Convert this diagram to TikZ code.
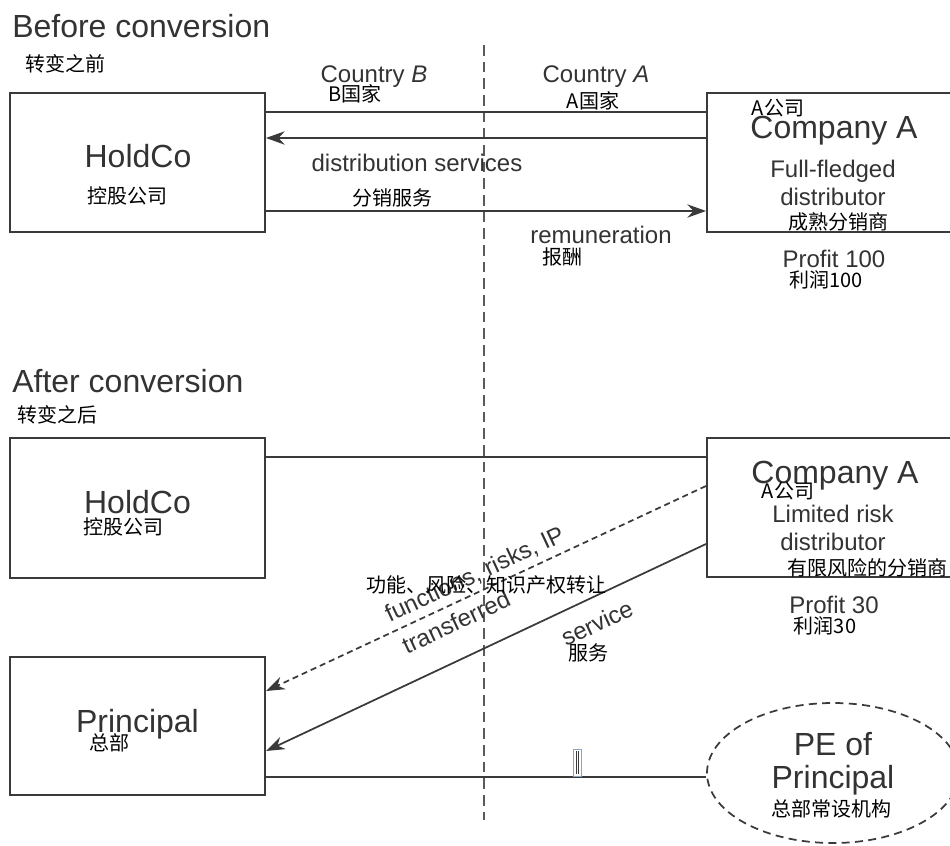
\documentclass[tikz,border=0pt]{standalone}
\usepackage{fontspec}
\setmainfont{Liberation Sans}
\newfontfamily\cjk{Noto Sans CJK SC}
\usetikzlibrary{arrows.meta,shapes.geometric,calc}
\definecolor{txt}{HTML}{333333}
\definecolor{ln}{HTML}{3A3A3A}
\definecolor{vl}{HTML}{5A5A5A}
\definecolor{cur}{HTML}{8AA4C8}
\begin{document}
\begin{tikzpicture}[x=0.75pt,y=-0.75pt,
  box/.style={draw=ln,line width=1.5pt,minimum width=191.25pt,minimum height=104.25pt,inner sep=0pt},
  big/.style={font=\fontsize{24pt}{28pt}\selectfont,text=txt,inner sep=0pt},
  med/.style={font=\fontsize{18pt}{21pt}\selectfont,text=txt,inner sep=0pt},
  zh/.style={font=\cjk\fontsize{15pt}{18pt}\selectfont,text=black,inner sep=0pt},
  conn/.style={draw=ln,line width=1.3pt},
  arr/.style={conn,-{Stealth[length=14pt,width=10pt]}},
  darr/.style={arr,dash pattern=on 4.5pt off 3pt},
  divider/.style={draw=vl,line width=2pt,dash pattern=on 8pt off 4.5pt},
]
\useasboundingbox (0,0) rectangle (950,846);
\clip (0,0) rectangle (950,846);
\fill[white] (0,0) rectangle (950,846);

% divider
\coordinate (vt) at (484,45);
\coordinate (vb) at (484,820);
\draw[divider] (vt) -- (vb);

% ---------- Before conversion ----------
\node[big,anchor=base west] (t1) at (12,37) {Before conversion};
\node[zh,anchor=west] (t1z) at (25,64) {转变之前};

\node[box] (hold1) at (137.5,162.5) {};
\node[box,minimum width=201pt] (compA1) at (841,162.5) {};

\draw[conn] ([yshift=-15pt]hold1.north east) -- ([yshift=-15pt]compA1.north west);
\draw[arr] ([yshift=-34.5pt]compA1.north west) -- ([yshift=-34.5pt]hold1.north east);
\draw[arr] ([yshift=-89.25pt]hold1.north east) -- ([yshift=-89.25pt]compA1.north west);

\node[med,anchor=base] (cB) at (374,82) {Country \textit{B}};
\node[zh] (cBz) at (355,94) {B国家};
\node[med,anchor=base] (cA) at (596,82) {Country \textit{A}};
\node[zh] (cAz) at (593,101) {A国家};
\node[med,anchor=base] (ds) at (417,171) {distribution services};
\node[zh] (dsz) at (392,198) {分销服务};
\node[med,anchor=base] (rem) at (601,243) {remuneration};
\node[zh] (remz) at (562,257) {报酬};

\node[big,anchor=base] (h1) at (138,167) {HoldCo};
\node[zh] (h1z) at (127,196) {控股公司};

\node[big,anchor=base] (ca1) at (834,138) {Company A};
\node[zh] (ca1z) at (778,108) {A公司};
\node[med,anchor=base] (ff) at (833,177) {Full-fledged};
\node[med,anchor=base] (di1) at (833,205) {distributor};
\node[zh] (ffz) at (838,222) {成熟分销商};
\node[med,anchor=base] (p100) at (834,267) {Profit 100};
\node[zh] (p100z) at (826,280) {利润100};

% ---------- After conversion ----------
\node[big,anchor=base west] (t2) at (12,392) {After conversion};
\node[zh,anchor=west] (t2z) at (17,415) {转变之后};

\node[box,minimum height=105pt] (hold2) at (137.5,508) {};
\node[box,minimum width=201pt] (compA2) at (841,507.5) {};
\node[box,minimum height=103.5pt] (prin) at (137.5,726) {};
\node[draw=ln,line width=1.3pt,dash pattern=on 6pt off 4pt,ellipse,minimum width=189pt,minimum height=105pt,inner sep=0pt] (pe) at (833,773) {};

\draw[conn] ([yshift=-15pt]hold2.north east) -- ([yshift=-15pt]compA2.north west);
\draw[darr] ([yshift=-36.75pt]compA2.north west) -- ([yshift=-26.25pt]prin.north east);
\draw[arr] ([yshift=-80.25pt]compA2.north west) -- ([yshift=-71.25pt]prin.north east);
\coordinate (pl) at ([yshift=-90.75pt]prin.north east);
\draw[conn] (pl) -- (pl -| pe.west);

\node[big,anchor=base] (h2) at (137.5,513) {HoldCo};
\node[zh] (h2z) at (123,527) {控股公司};

\node[big,anchor=base] (ca2) at (835,483) {Company A};
\node[zh] (ca2z) at (788,491) {A公司};
\node[med,anchor=base] (lr) at (833,522) {Limited risk};
\node[med,anchor=base] (di2) at (833,550) {distributor};
\node[zh] (lrz) at (867,568) {有限风险的分销商};
\node[med,anchor=base] (p30) at (834,613) {Profit 30};
\node[zh] (p30z) at (825,626) {利润30};

\node[big,anchor=base] (pr) at (137.5,732) {Principal};
\node[zh] (prz) at (109,743) {总部};

\node[big,anchor=base] (pe1) at (833,755) {PE of};
\node[big,anchor=base] (pe2) at (833,788) {Principal};
\node[zh] (pez) at (831,809) {总部常设机构};

\node[med,rotate=25] (fr) at (475,575) {functions, risks, IP};
\node[med,rotate=25] (tr) at (456,622) {transferred};
\node[zh] (frz) at (486,585) {功能、风险、知识产权转让};
\node[med,rotate=25] (sv) at (597,623) {service};
\node[zh] (svz) at (588,653) {服务};

% small cursor mark
\draw[cur,line width=0.6pt] (573,749) rectangle (581,776);
\draw[ln,line width=0.5pt] (576,751) -- (576,774);
\draw[ln,line width=0.5pt] (578,751) -- (578,774);
\end{tikzpicture}
\end{document}
